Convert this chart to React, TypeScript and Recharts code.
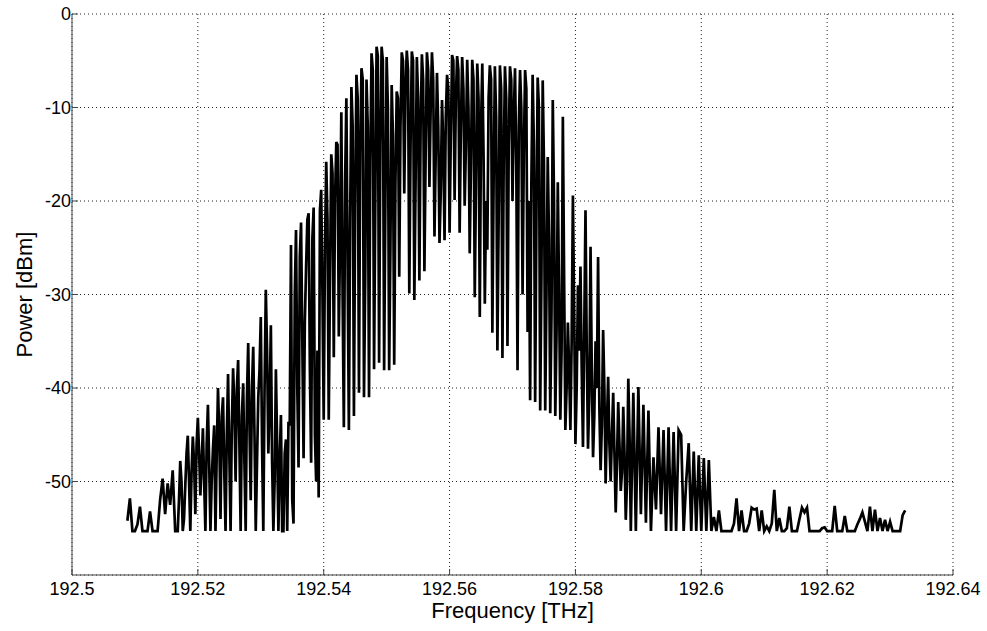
import React from 'react';
import { LineChart, Line, XAxis, YAxis, CartesianGrid } from 'recharts';

// power readings in dBm, left to right.
// the quiet tails were read on a 0.4 GHz grid, the busy part on a 0.2 GHz grid
const leftTailStart = 192.5088;
const coreStart = 192.5168;
const tailStart = 192.5888;
const coarseStep = 0.0004;
const fineStep = 0.0002;

const leftTail = [
  -54.2, -51.8, -55.3, -55.3, -54.6, -52.7, -55.3, -55.3, -55.3, -53.2,
  -55.3, -55.3, -55.3, -52, -49.7, -53.5, -50.2, -52.5, -48.8, -55.3,
];
const leftSkirt = [
  -55.3, -52, -47.8, -50, -55.3, -54, -50.5, -47, -45.1, -50, -55.3, -49, -45.2, -48, -53.5, -46, -43.2, -47, -51.5, -48,
  -44.3, -50, -55.3, -46, -41.8, -48, -55.3, -50, -46.5, -44, -55.3, -47, -40, -45, -54, -43, -41, -49, -55.3, -45,
  -38.5, -47, -55.3, -44, -37.9, -42, -50, -40, -37, -46, -55.3, -43, -39.5, -48, -55.3, -41, -35.2, -44, -52, -40,
  -35.6, -45, -55.3, -48, -41, -38, -32.4, -46, -55.3, -40, -29.5, -36, -47, -42, -33.3, -48, -55.3, -50, -38, -46,
];
const risingEdge = [
  -55.3, -48, -42.9, -55.3, -55.3, -47, -45.5, -55.3, -43.6, -44, -24.7, -52, -54.5, -30, -23.1, -40, -48.5, -26, -22.3, -35,
  -47.5, -33, -27, -22, -21.3, -38, -48, -24, -20.7, -45, -50, -36, -51.7, -21, -18.8, -30, -43.4, -25, -15.8, -22,
  -43.4, -28, -15, -17, -36.7, -20, -13.7, -14, -34.5, -24, -10.5, -30, -44.2, -18, -9, -27, -44.5, -22, -7.8, -12,
  -43, -20, -6.5, -9, -40.5, -15, -5.8, -7, -41, -28, -7, -12, -41, -16, -4.2, -6, -38, -20, -3.5, -4.5,
];
const mainLobe = [
  -37.3, -14, -3.5, -5, -38.1, -20, -4.6, -10, -38.1, -25, -7.6, -13, -37.5, -18, -8.3, -9, -28.1, -12, -4.1, -5,
  -19.2, -8, -3.9, -6, -29.9, -14, -4, -5, -30.6, -18, -4.6, -9, -28.5, -12, -4.3, -7, -27.5, -15, -4.1, -6,
  -18.5, -10, -4.1, -7, -23.8, -15, -6.3, -12, -24.5, -19, -9.2, -14, -24.2, -11, -6.5, -8, -23.4, -13, -4.4, -5,
  -19.9, -9, -4.5, -6, -23.4, -12, -4.6, -8, -20.5, -14, -4.9, -10, -25.6, -16, -4.9, -7, -30.3, -18, -5.3, -9,
  -32.4, -12, -5.3, -15, -31, -20, -25.2, -9, -5.5, -7, -34.1, -18, -5.6, -11, -36, -22, -5.5, -8, -36.8, -16,
  -5.6, -9, -35.5, -14, -5.6, -7, -20, -11, -5.8, -16, -38.1, -12, -6, -10, -30, -15, -6, -8, -34, -20,
];
const fallingEdge = [
  -41.3, -18, -6.5, -14, -41.5, -22, -6.8, -10, -42.4, -28, -7.1, -16, -42.4, -30, -15.3, -24, -42.7, -32, -9.2, -20,
  -43, -34, -18, -30, -43.4, -36, -11, -28, -44.5, -40, -33, -38, -44.5, -35, -19.4, -32, -46, -40, -29, -36,
  -27, -38, -46.3, -34, -21, -36, -46.5, -41, -24.9, -38, -47.4, -43, -35, -40, -26, -42, -48.8, -44, -33.8, -40,
  -50.2, -44, -38.8, -46, -50, -45, -40.5, -47, -53.3, -48, -41.5, -46, -51, -49, -42, -47, -54.1, -50, -39, -45,
];
const rightShoulder = [
  -55.3, -40.5, -55.3, -39.9, -53.5, -41.8, -54.4, -42.4, -55.3, -47.4,
  -53, -44.2, -53.5, -44.5, -55.3, -44.2, -55.3, -44.7, -55.3, -44.5,
  -45, -55.3, -50, -45.9, -55.3, -46.8, -55.3, -47.2, -55.3, -47.5,
];
const noiseFloor = [
  -55.3, -47.7, -55.3, -53.8, -55.3, -53.1, -55.3, -55.3, -55.3, -55.3,
  -55.3, -54.5, -51.8, -55.3, -53.1, -55.3, -55.3, -54.5, -52.8, -53,
  -52.9, -55.3, -53.1, -55.3, -54.8, -55.3, -54.5, -50.9, -55.3, -53.9,
  -55.3, -55.3, -55, -52.7, -55.3, -55.3, -55.3, -54, -52.8, -53.3,
  -52.8, -55.3, -55.3, -55.3, -55.3, -55.3, -55, -54.9, -55.3, -55.3,
  -55.3, -52.6, -55.3, -55.3, -55.3, -53.7, -55.3, -55.3, -55.3, -55.3,
  -54.6, -54, -53.3, -54.3, -55.3, -52.7, -55.3, -53, -55.3, -53.9,
  -55.3, -54.1, -55.3, -54.3, -55.3, -55.3, -55.3, -55.3, -53.6, -53.1,
];

const xTicks = [192.5, 192.52, 192.54, 192.56, 192.58, 192.6, 192.62, 192.64];
const yTicks = [-50, -40, -30, -20, -10, 0];

const onGrid = (values: number[], start: number, step: number) =>
  values.map((p, i) => ({ f: start + i * step, p }));

const data = [
  ...onGrid(leftTail, leftTailStart, coarseStep),
  ...onGrid([...leftSkirt, ...risingEdge, ...mainLobe, ...fallingEdge], coreStart, fineStep),
  ...onGrid([...rightShoulder, ...noiseFloor], tailStart, coarseStep),
];

const FONT = '"Liberation Sans", Arial, Helvetica, sans-serif';
const AXIS = '#444';

// rotated y label, centred on the plot height
const YLabel = (props: any) => {
  const { viewBox } = props;
  const x = viewBox.x + 24;
  const y = viewBox.y + viewBox.height / 2;
  return (
    <text
      x={x}
      y={y}
      transform={`rotate(-90, ${x}, ${y})`}
      textAnchor="middle"
      dominantBaseline="central"
      fontSize={22}
      fontFamily={FONT}
      fill="#000"
    >
      Power [dBm]
    </text>
  );
};

const App = () => {
  const tickStyle = { fontSize: 18, fontFamily: FONT, fill: '#000' };
  return (
    <div style={{ position: 'absolute', left: 0, top: 0, width: 987, height: 631, background: '#fff' }}>
      <LineChart width={987} height={631} data={data} margin={{ top: 14, right: 34, bottom: 0, left: 0 }}>
        <CartesianGrid stroke="#222" strokeDasharray="1 3" strokeWidth={1} />
        <XAxis
          dataKey="f"
          type="number"
          domain={[192.5, 192.64]}
          ticks={xTicks}
          allowDataOverflow
          tickFormatter={(v: number) => String(v)}
          height={56}
          stroke={AXIS}
          tickSize={-6}
          tickMargin={13}
          tick={tickStyle}
          label={{ value: 'Frequency [THz]', position: 'insideBottom', offset: 13, fontSize: 22, fontFamily: FONT, fill: '#000' }}
        />
        <XAxis
          xAxisId="top"
          orientation="top"
          dataKey="f"
          type="number"
          domain={[192.5, 192.64]}
          ticks={xTicks}
          allowDataOverflow
          height={0}
          stroke={AXIS}
          tickSize={-6}
          tick={false}
        />
        <YAxis
          type="number"
          domain={[-60, 0]}
          ticks={yTicks}
          allowDataOverflow
          width={72}
          stroke={AXIS}
          tickSize={-6}
          tickMargin={7}
          tick={tickStyle}
          label={<YLabel />}
        />
        <YAxis
          yAxisId="right"
          orientation="right"
          type="number"
          domain={[-60, 0]}
          ticks={yTicks}
          width={0}
          stroke={AXIS}
          tickSize={-6}
          tick={false}
        />
        <Line
          type="linear"
          dataKey="p"
          stroke="#000"
          strokeWidth={2.7}
          dot={false}
          isAnimationActive={false}
        />
      </LineChart>
    </div>
  );
};

export default App;
